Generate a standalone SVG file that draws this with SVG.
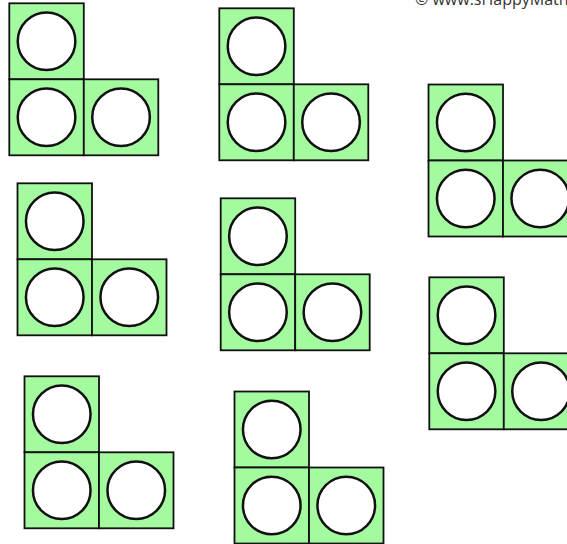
<svg xmlns="http://www.w3.org/2000/svg" xmlns:xlink="http://www.w3.org/1999/xlink" width="567" height="544" viewBox="0 0 567 544">
  <style>
    .sq { fill: #a4fb9f; stroke: #111; stroke-width: 1.8; }
    .ci { fill: #ffffff; stroke: #111; stroke-width: 2.5; }
    .copy { font-family: "Open Sans", "DejaVu Sans", sans-serif; font-size: 16px; fill: #333; }
  </style>
  <defs>
    <g id="L">
      <rect class="sq" x="0" y="0" width="74.5" height="76"/>
      <rect class="sq" x="0" y="76" width="74.5" height="76"/>
      <rect class="sq" x="74.5" y="76" width="74.5" height="76"/>
      <circle class="ci" cx="37.25" cy="38" r="28.8"/>
      <circle class="ci" cx="37.25" cy="114" r="28.8"/>
      <circle class="ci" cx="111.75" cy="114" r="28.8"/>
    </g>
  </defs>
  <rect x="0" y="0" width="567" height="544" fill="#ffffff"/>
  <text class="copy" x="415" y="5">© www.sHappyMaths.com</text>
  <g id="shape1"><use xlink:href="#L" href="#L" transform="translate(9.3,3.3)"/></g>
  <g id="shape2"><use xlink:href="#L" href="#L" transform="translate(219.3,8.3)"/></g>
  <g id="shape3"><use xlink:href="#L" href="#L" transform="translate(428.5,84.5)"/></g>
  <g id="shape4"><use xlink:href="#L" href="#L" transform="translate(17.5,183.3)"/></g>
  <g id="shape5"><use xlink:href="#L" href="#L" transform="translate(220.7,198.3)"/></g>
  <g id="shape6"><use xlink:href="#L" href="#L" transform="translate(429.3,277.3)"/></g>
  <g id="shape7"><use xlink:href="#L" href="#L" transform="translate(24.5,376.3)"/></g>
  <g id="shape8"><use xlink:href="#L" href="#L" transform="translate(234.5,391.5)"/></g>
  <g id="connectors"></g>
</svg>
